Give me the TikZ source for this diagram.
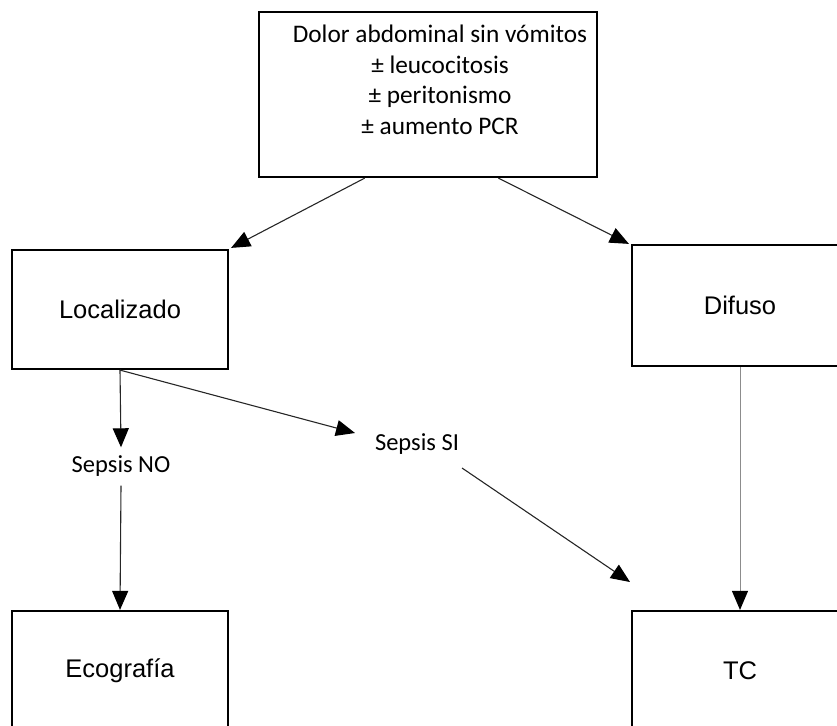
\documentclass[tikz,border=0pt]{standalone}
\usepackage{fontspec}
\setmainfont{Carlito}
\newfontfamily\arialfont{Liberation Sans}
\usetikzlibrary{arrows.meta,calc}
\begin{document}
\begin{tikzpicture}[x=1pt,y=-1pt,
  boxstyle/.style={draw=black,line width=2.2pt,fill=white},
  boxtext/.style={font=\arialfont\fontsize{25.5}{30}\selectfont,inner sep=0pt},
  labeltext/.style={font=\fontsize{24.5}{29}\selectfont,inner sep=2pt},
  flow/.style={draw=black!85,line width=1.1pt,-{Triangle[length=19pt,width=16pt,color=black]}},
]
\useasboundingbox (0,0) rectangle (837,725);
\clip (0,0) rectangle (837,725);

% boxes
\node[boxstyle,minimum width=338pt,minimum height=165pt,inner sep=0pt] (top) at (428,94.5) {};
\node[boxstyle,minimum width=216pt,minimum height=119pt,inner sep=0pt] (loc) at (120,309.5) {};
\node[boxstyle,minimum width=216pt,minimum height=121pt,inner sep=0pt] (dif) at (740,305.5) {};
\node[boxstyle,minimum width=216pt,minimum height=119pt,inner sep=0pt] (eco) at (120,670.5) {};
\node[boxstyle,minimum width=216pt,minimum height=119pt,inner sep=0pt] (tc) at (740,670.5) {};

% box texts
\node[align=center,font=\fontsize{25.3}{30.5}\selectfont,inner sep=0pt] (toptext) at (440,80)
  {Dolor abdominal sin vómitos\\ ± leucocitosis\\ ± peritonismo\\ ± aumento PCR};
\node[boxtext] (loctext) at (loc.center) {Localizado};
\node[boxtext] (diftext) at (dif.center) {Difuso};
\node[boxtext] (ecotext) at (eco.center) {Ecografía};
\node[boxtext] (tctext) at (tc.center) {TC};

% edge labels
\node[labeltext,minimum height=38pt] (sno) at (121,466.5) {Sepsis NO};
\node[labeltext] (ssi) at (417,444) {Sepsis SI};

% connector ends
\coordinate (topL) at ($(top.south west)!0.314!(top.south east)$);
\coordinate (topR) at ($(top.south west)!0.707!(top.south east)$);
\coordinate (locS) at (loc.south);
\coordinate (ssiIn) at (355,433);
\coordinate (ssiOut) at (462,468);
\coordinate (tcTip) at (630,582);

% connectors
\draw[flow] (topL) -- ($(loc.north east)+(2,-1)$);
\draw[flow] (topR) -- ($(dif.north west)+(-2,0)$);
\draw[flow] (locS) -- (sno.north);
\draw[flow] (sno.south) -- (eco.north);
\draw[flow] (locS) -- (ssiIn);
\draw[flow] (ssiOut) -- (tcTip);
\draw[flow,draw=black!45,line width=1pt] (dif.south) -- (tc.north);
\end{tikzpicture}
\end{document}
